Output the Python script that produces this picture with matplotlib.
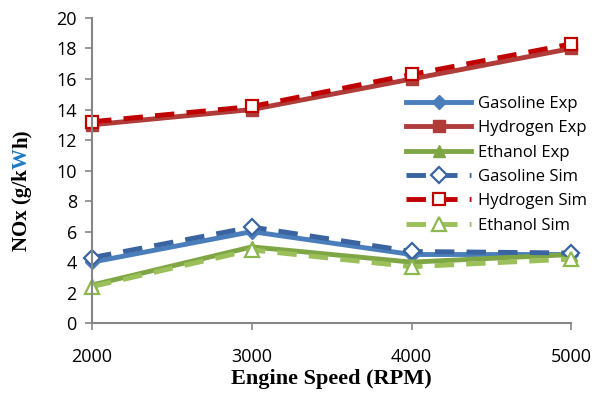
import matplotlib
matplotlib.use("Agg")
import matplotlib.pyplot as plt

# data
speed = [2000, 3000, 4000, 5000]
gasoline_exp = [4.0, 6.0, 4.5, 4.5]
hydrogen_exp = [13.0, 14.0, 16.0, 18.0]
ethanol_exp = [2.5, 5.0, 4.0, 4.5]
gasoline_sim = [4.3, 6.3, 4.7, 4.6]
hydrogen_sim = [13.2, 14.2, 16.3, 18.3]
ethanol_sim = [2.4, 4.8, 3.7, 4.2]

TICK_FONT = "Open Sans"
LABEL_FONT = "Liberation Serif"

fig = plt.figure(figsize=(6.02, 3.99), dpi=100)
ax = fig.add_axes([0.153, 0.19, 0.796, 0.765])

ax.plot(speed, gasoline_exp, color="#4A7EBB", marker="D", ms=7, lw=3.5,
        label="Gasoline Exp")
ax.plot(speed, hydrogen_exp, color="#B03C3A", marker="s", ms=8, lw=3.5,
        label="Hydrogen Exp")
ax.plot(speed, ethanol_exp, color="#7FA645", marker="^", ms=9, lw=3.5,
        label="Ethanol Exp")

sim_style = dict(lw=3.5, ls=(0, (4, 2.5)), mfc="white", mew=1.6)
ax.plot(speed, gasoline_sim, color="#3A64A0", marker="D", ms=8,
        mec="#3A64A0", label="Gasoline Sim", **sim_style)
ax.plot(speed, hydrogen_sim, color="#C00000", marker="s", ms=9,
        mec="#C00000", label="Hydrogen Sim", **sim_style)
ax.plot(speed, ethanol_sim, color="#9BC05A", marker="^", ms=10,
        mec="#8DB850", label="Ethanol Sim", **sim_style)

ax.set_xlim(2000, 5000)
ax.set_ylim(0, 20)
ax.set_xticks(speed)
ax.set_yticks(range(0, 21, 2))
for s in ["top", "right"]:
    ax.spines[s].set_visible(False)
for s in ["left", "bottom"]:
    ax.spines[s].set_color("#868686")
    ax.spines[s].set_linewidth(1.5)
ax.tick_params(axis="both", colors="#868686", width=1.2, length=5,
               labelcolor="black", labelsize=13)
ax.tick_params(axis="x", pad=13)
ax.tick_params(axis="y", pad=6)
for lab in ax.get_xticklabels() + ax.get_yticklabels():
    lab.set_fontfamily(TICK_FONT)
ax.margins(0)
for line in ax.get_lines():
    line.set_clip_on(False)

ax.set_xlabel("Engine Speed (RPM)", fontfamily=LABEL_FONT, fontsize=16,
              fontweight="bold", labelpad=2)

# y label with the blue "W"
fig.canvas.draw()
renderer = fig.canvas.get_renderer()
parts = [("NOx (g/k", "black"), ("W", "#1F7AC0"), ("h)", "black")]
total = 0
texts = []
for txt, col in parts:
    t = fig.text(22 / 602, 0, txt, rotation=90, fontfamily=LABEL_FONT,
                 fontsize=15, fontweight="bold", color=col,
                 ha="center", va="bottom")
    h = t.get_window_extent(renderer).height
    texts.append((t, h))
    total += h
cur = (399 - 190) - total / 2
for t, h in texts:
    t.set_y(cur / 399)
    cur += h

leg = ax.legend(loc="upper left", bbox_to_anchor=(0.65, 0.797),
                bbox_transform=fig.transFigure, frameon=False, numpoints=1,
                prop={"family": TICK_FONT, "size": 12}, handlelength=3.9,
                labelspacing=0.5, handletextpad=0.4)

fig.savefig("out.png", dpi=100)
